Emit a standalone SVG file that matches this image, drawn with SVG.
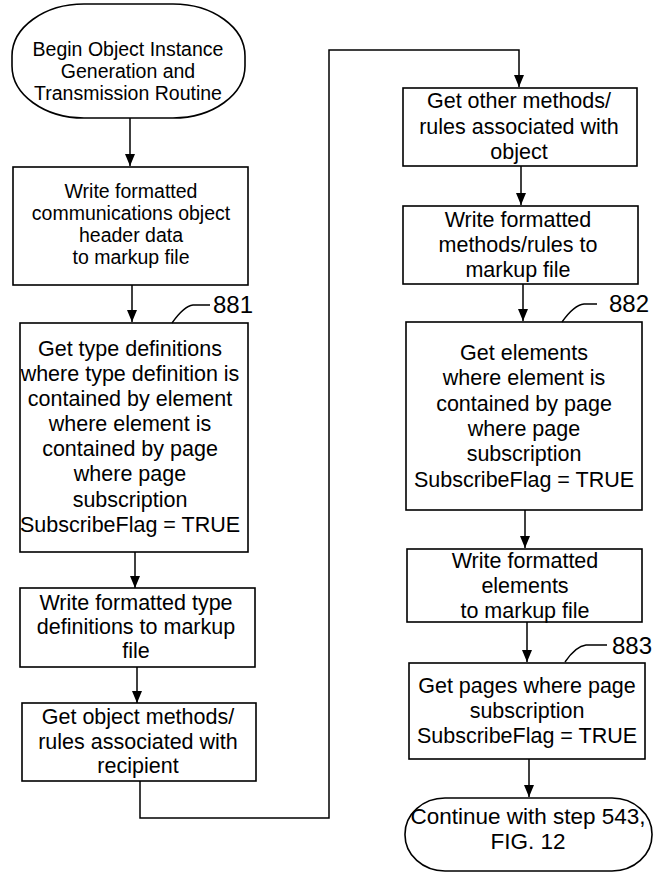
<svg xmlns="http://www.w3.org/2000/svg" width="657" height="873" viewBox="0 0 657 873">
  <defs>
    <marker id="arrow" viewBox="0 0 12 10" refX="12" refY="5" markerWidth="12" markerHeight="10" markerUnits="userSpaceOnUse" orient="auto">
      <path d="M0,0 L12,5 L0,10 Z" fill="#000"/>
    </marker>
    <style>
      .shape { fill: #fff; stroke: #000; stroke-width: 1.6; }
      .conn { fill: none; stroke: #000; stroke-width: 1.5; }
      .lead { fill: none; stroke: #000; stroke-width: 1.4; }
      text { font-family: "Liberation Sans", Arial, sans-serif; fill: #000; text-anchor: middle; }
      .t { font-size: 21.5px; }
      .s { font-size: 19.5px; }
      .e { font-size: 22.5px; }
      .ref { font-size: 24px; text-anchor: start; }
    </style>
  </defs>
  <rect width="657" height="873" fill="#fff"/>

  <!-- flow connectors -->
  <g id="connectors">
    <path class="conn" d="M130,118 V166" marker-end="url(#arrow)"/>
    <path class="conn" d="M132,285 V322" marker-end="url(#arrow)"/>
    <path class="conn" d="M135,552 V588" marker-end="url(#arrow)"/>
    <path class="conn" d="M137,667 V703" marker-end="url(#arrow)"/>
    <path class="conn" d="M140,781 V818 H329 V50 H519 V87" marker-end="url(#arrow)"/>
    <path class="conn" d="M521,166 V205" marker-end="url(#arrow)"/>
    <path class="conn" d="M523,284 V321" marker-end="url(#arrow)"/>
    <path class="conn" d="M525,510 V548" marker-end="url(#arrow)"/>
    <path class="conn" d="M527,622 V662" marker-end="url(#arrow)"/>
    <path class="conn" d="M529,759 V797" marker-end="url(#arrow)"/>
  </g>

  <!-- left column -->
  <g id="start">
    <rect class="shape" x="12" y="4" width="233" height="114" rx="72" ry="52"/>
    <text class="s"><tspan x="128" y="56">Begin Object Instance</tspan><tspan x="128" y="78">Generation and</tspan><tspan x="128" y="100">Transmission Routine</tspan></text>
  </g>

  <g id="write-header">
    <rect class="shape" x="13" y="167" width="235" height="118"/>
    <text class="s"><tspan x="131" y="198">Write formatted</tspan><tspan x="131" y="220">communications object</tspan><tspan x="131" y="242">header data</tspan><tspan x="131" y="264">to markup file</tspan></text>
  </g>

  <g id="get-type-defs">
    <rect class="shape" x="20" y="323" width="228" height="229"/>
    <text class="t"><tspan x="130" y="356">Get type definitions</tspan><tspan x="130" y="381">where type definition is</tspan><tspan x="130" y="406">contained by element</tspan><tspan x="130" y="431">where element is</tspan><tspan x="130" y="456">contained by page</tspan><tspan x="130" y="481">where page</tspan><tspan x="130" y="507">subscription</tspan><tspan x="130" y="532">SubscribeFlag = TRUE</tspan></text>
    <path class="lead" d="M172,323 Q184,306 193,305 L210,305"/>
    <text class="ref" x="213" y="313">881</text>
  </g>

  <g id="write-type-defs">
    <rect class="shape" x="20" y="588" width="235" height="79"/>
    <text class="t"><tspan x="136" y="610">Write formatted type</tspan><tspan x="136" y="634">definitions to markup</tspan><tspan x="136" y="658">file</tspan></text>
  </g>

  <g id="get-object-methods">
    <rect class="shape" x="22" y="703" width="234" height="78"/>
    <text class="t"><tspan x="138" y="724">Get object methods/</tspan><tspan x="138" y="749">rules associated with</tspan><tspan x="138" y="773">recipient</tspan></text>
  </g>

  <!-- right column -->
  <g id="get-other-methods">
    <rect class="shape" x="403" y="88" width="234" height="78"/>
    <text class="t"><tspan x="519" y="108">Get other methods/</tspan><tspan x="519" y="134">rules associated with</tspan><tspan x="519" y="159">object</tspan></text>
  </g>

  <g id="write-methods">
    <rect class="shape" x="403" y="206" width="235" height="78"/>
    <text class="t"><tspan x="518" y="227">Write formatted</tspan><tspan x="518" y="252">methods/rules to</tspan><tspan x="518" y="277">markup file</tspan></text>
  </g>

  <g id="get-elements">
    <rect class="shape" x="406" y="322" width="236" height="188"/>
    <text class="t"><tspan x="524" y="360">Get elements</tspan><tspan x="524" y="385">where element is</tspan><tspan x="524" y="411">contained by page</tspan><tspan x="524" y="436">where page</tspan><tspan x="524" y="461">subscription</tspan><tspan x="524" y="487">SubscribeFlag = TRUE</tspan></text>
    <path class="lead" d="M562,322 Q574,305 584,304 L597,304"/>
    <text class="ref" x="609" y="312">882</text>
  </g>

  <g id="write-elements">
    <rect class="shape" x="407" y="549" width="235" height="73"/>
    <text class="t"><tspan x="525" y="568">Write formatted</tspan><tspan x="525" y="593">elements</tspan><tspan x="525" y="618">to markup file</tspan></text>
  </g>

  <g id="get-pages">
    <rect class="shape" x="409" y="663" width="236" height="96"/>
    <text class="t"><tspan x="527" y="693">Get pages where page</tspan><tspan x="527" y="718">subscription</tspan><tspan x="527" y="743">SubscribeFlag = TRUE</tspan></text>
    <path class="lead" d="M565,662 Q576,646 586,645 L607,645"/>
    <text class="ref" x="612" y="654">883</text>
  </g>

  <g id="end">
    <rect class="shape" x="405" y="798" width="247" height="73" rx="40" ry="36"/>
    <text class="e"><tspan x="528" y="824">Continue with step 543,</tspan><tspan x="528" y="849">FIG. 12</tspan></text>
  </g>
</svg>
